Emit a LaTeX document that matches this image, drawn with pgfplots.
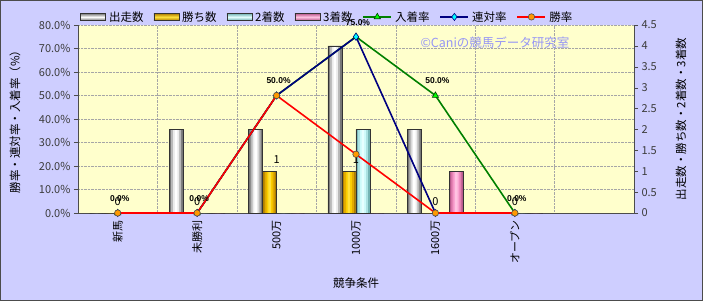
\documentclass[border=0pt]{standalone}
\usepackage{fontspec}
\setmainfont{Noto Sans CJK JP}
\newfontfamily\lab{Liberation Sans}
\usepackage{pgfplots}
\usepackage{pgfplotstable}
\pgfplotsset{compat=1.18}
\definecolor{bgc}{RGB}{206,206,255}
\definecolor{plotc}{RGB}{255,255,204}
\definecolor{w1}{RGB}{120,120,120}
\definecolor{w2}{RGB}{185,185,185}
\definecolor{w3}{RGB}{235,235,235}
\definecolor{w4}{RGB}{255,255,255}
\definecolor{g1}{RGB}{175,125,0}
\definecolor{g2}{RGB}{225,170,0}
\definecolor{g3}{RGB}{250,205,0}
\definecolor{g4}{RGB}{255,225,60}
\definecolor{c1}{RGB}{115,180,180}
\definecolor{c2}{RGB}{170,225,225}
\definecolor{c3}{RGB}{205,250,250}
\definecolor{c4}{RGB}{230,255,255}
\definecolor{p1}{RGB}{185,90,140}
\definecolor{p2}{RGB}{230,130,180}
\definecolor{p3}{RGB}{250,165,210}
\definecolor{p4}{RGB}{255,195,225}
\definecolor{gline}{RGB}{0,128,0}
\definecolor{gmark}{RGB}{0,255,0}
\definecolor{nline}{RGB}{0,0,128}
\definecolor{nmark}{RGB}{0,255,255}
\definecolor{rline}{RGB}{255,0,0}
\definecolor{rmark}{RGB}{255,153,0}
\definecolor{wm}{RGB}{150,150,245}
\definecolor{tickc}{RGB}{60,60,60}
\pgfplotstableread{
x y
0 0
1 2
2 2
3 4
4 2
5 0
}\shusso
\pgfplotstableread{
x y
0 0
1 0
2 1
3 1
4 0
5 0
}\kachi
\pgfplotstableread{
x y
0 0
1 0
2 0
3 2
4 0
5 0
}\nichaku
\pgfplotstableread{
x y
0 0
1 0
2 0
3 0
4 1
5 0
}\sanchaku
\pgfplotstableread{
x nyuchaku rentai shoritsu
0 0 0 0
1 0 0 0
2 50 50 50
3 75 75 25
4 50 0 0
5 0 0 0
}\rates
\pgfplotsset{
  barleg/.style={legend image code/.code={\draw[##1] (0bp,-3.5bp) rectangle (25bp,3.5bp);}},
  lineleg/.style={legend image code/.code={\draw[mark repeat=2,mark phase=2,##1] plot coordinates {(0bp,0bp)(14bp,0bp)(28bp,0bp)};}},
}
% layered bar: #1 table, #2 shift, #3..#6 colours outer..inner, #7 extra options for outline
\newcommand\lbar[7]{%
\addplot[ybar, bar shift=#2, bar width=14bp, fill=#3, draw=none] table[x=x,y=y] {#1};
\addplot[ybar, bar shift=#2, bar width=10bp, fill=#4, draw=none] table[x=x,y=y] {#1};
\addplot[ybar, bar shift=#2, bar width=6bp, fill=#5, draw=none] table[x=x,y=y] {#1};
\addplot[ybar, bar shift=#2, bar width=2.5bp, fill=#6, draw=none] table[x=x,y=y] {#1};
\addplot[ybar, bar shift=#2, bar width=14bp, fill=none, draw=black!80, line width=0.6pt, #7] table[x=x,y=y] {#1};
}
\begin{document}
\begin{tikzpicture}
\fill[bgc] (-78bp,-88bp) rectangle (625bp,213bp);
\draw[black!70, line width=1.5bp] (-77.25bp,-87.25bp) rectangle (624.25bp,212.25bp);
% ---------- bars (right axis) ----------
\begin{axis}[
  at={(0,0)}, anchor=south west,
  scale only axis, width=556bp, height=188bp,
  xmin=-0.5, xmax=6.5, ymin=0, ymax=4.5,
  axis background/.style={fill=plotc},
  axis x line*=bottom, axis y line*=right,
  axis line style={-, draw=black!70, line width=0.8pt},
  /pgf/number format/assume math mode=true,
  xtick={0,...,5},
  xticklabels={新馬,未勝利,500万,1000万,1600万,オープン},
  x tick label style={rotate=90, anchor=east, font=\fontsize{11bp}{13bp}\selectfont, text=black},
  major x tick style={draw=none},
  minor xtick={0.5,1.5,...,5.5},
  xminorgrids, minor x grid style={densely dotted, gray!70},
  minor tick length=0pt,
  ytick={0,0.5,...,4.5},
  y tick label style={font=\fontsize{11bp}{13bp}\selectfont, text=tickc},
  extra y ticks={0.5625,1.125,1.6875,2.25,2.8125,3.375,3.9375,4.5},
  extra y tick labels={},
  extra y tick style={grid=major, major grid style={densely dotted, gray!70}, major tick length=0pt},
  tick align=outside, major tick length=4bp,
  tick style={black!70},
  ylabel={出走数・勝ち数・2着数・3着数},
  ylabel style={at={(axis description cs:1.0845,0.5)}, anchor=center, font=\fontsize{11.5bp}{13bp}\selectfont},
  xlabel={競争条件},
  xlabel style={at={(axis description cs:0.5,-0.372)}, anchor=center, font=\fontsize{11.5bp}{13bp}\selectfont},
]
\lbar{\shusso}{-21bp}{w1}{w2}{w3}{w4}{}
\lbar{\kachi}{-7bp}{g1}{g2}{g3}{g4}{nodes near coords, every node near coord/.append style={font=\fontsize{11bp}{13bp}\selectfont, text=black, yshift=4bp}}
\lbar{\nichaku}{7bp}{c1}{c2}{c3}{c4}{}
\lbar{\sanchaku}{21bp}{p1}{p2}{p3}{p4}{}
\end{axis}
% ---------- lines (left axis) ----------
\begin{axis}[
  at={(0,0)}, anchor=south west,
  scale only axis, width=556bp, height=188bp,
  xmin=-0.5, xmax=6.5, ymin=0, ymax=80,
  axis x line=none, axis y line*=left, xtick=\empty,
  axis line style={-, draw=black!70, line width=0.8pt},
  /pgf/number format/assume math mode=true,
  ytick={0,10,...,80},
  yticklabel={\pgfmathprintnumber[fixed,fixed zerofill,precision=1]{\tick}\%},
  y tick label style={font=\fontsize{11bp}{13bp}\selectfont, text=tickc},
  tick align=outside, major tick length=4bp,
  tick style={black!70},
  clip=false,
  ylabel={勝率・連対率・入着率（\%）},
  ylabel style={at={(axis description cs:-0.1133,0.5)}, anchor=center, font=\fontsize{11.5bp}{13bp}\selectfont},
  lineleg,
  legend columns=-1,
  legend style={at={(axis description cs:0.004,1.043)}, anchor=west, draw=none, fill=none,
    inner sep=0pt, font=\fontsize{11.5bp}{13bp}\selectfont,
    /tikz/every even column/.append style={column sep=8bp},
    /tikz/every odd column/.append style={column sep=1bp}},
  every node near coord/.append style={font=\lab\bfseries\fontsize{8.5bp}{10bp}\selectfont, text=black, yshift=8bp, xshift=2bp},
]
\addlegendimage{barleg, draw=black!80, line width=0.6pt, top color=w1, bottom color=w1, middle color=white}
\addlegendentry{出走数}
\addlegendimage{barleg, draw=black!80, line width=0.6pt, top color=g1, bottom color=g1, middle color=g4}
\addlegendentry{勝ち数}
\addlegendimage{barleg, draw=black!80, line width=0.6pt, top color=c1, bottom color=c1, middle color=c4}
\addlegendentry{2着数}
\addlegendimage{barleg, draw=black!80, line width=0.6pt, top color=p1, bottom color=p1, middle color=p4}
\addlegendentry{3着数}
\addplot[gline, line width=1.6pt, mark=triangle*, mark size=3.6bp,
  mark options={fill=gmark, draw=gline!50!black, line width=0.6pt},
  nodes near coords={\pgfmathprintnumber[fixed,fixed zerofill,precision=1]{\pgfplotspointmeta}\%}]
  table[x=x,y=nyuchaku] {\rates};
\addlegendentry{入着率}
\addplot[nline, line width=1.6pt, mark=diamond*, mark size=3.6bp,
  mark options={fill=nmark, draw=nline, line width=0.6pt}]
  table[x=x,y=rentai] {\rates};
\addlegendentry{連対率}
\addplot[rline, line width=1.6pt, mark=*, mark size=3.2bp,
  mark options={fill=rmark, draw=black!70, line width=0.6pt}]
  table[x=x,y=shoritsu] {\rates};
\addlegendentry{勝率}
\node[text=wm, font=\fontsize{12.5bp}{14bp}\selectfont] at (axis cs:4.75,72.3) {©Caniの競馬データ研究室};
\end{axis}
\pgfresetboundingbox
\path (-78bp,-88bp) rectangle (625bp,213bp);
\end{tikzpicture}
\end{document}
